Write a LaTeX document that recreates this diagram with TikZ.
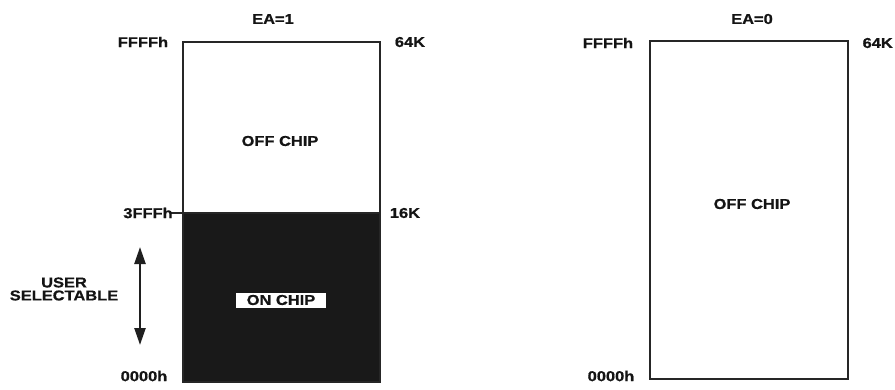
\documentclass[tikz,border=0pt]{standalone}
\usepackage{fontspec}
\setmainfont{Liberation Sans}[FakeStretch=1.15]
\usetikzlibrary{arrows.meta}
\begin{document}
\begin{tikzpicture}[x=1pt,y=-1pt,
  lbl/.style={font=\bfseries\fontsize{14.3}{15}\selectfont\addfontfeature{FakeBold=0.8}, inner sep=0pt, text=black!92},
  mem/.style={draw=black!85, line width=1.7pt, anchor=north west, inner sep=0pt},
  selarrow/.style={line width=2.4pt, draw=black!88, {Triangle[length=17pt,width=11pt]}-{Triangle[length=17pt,width=11pt]}}]
\useasboundingbox (0,0) rectangle (895,389);
% left map
\fill[black!90] (182,213) rectangle (379,381);
\node[mem, minimum width=197pt, minimum height=340pt] (boxA) at (182,41) {};
\coordinate (tickL) at (170,213);
\coordinate (tickR) at (379,213);
\draw[draw=black!85, line width=1.7pt] (tickL) -- (tickR);
\node[lbl] (ea1) at (273,19) {EA=1};
\node[lbl] (ffA) at (143,42) {FFFFh};
\node[lbl] (k64A) at (410,42) {64K};
\node[lbl] (offA) at (280,141) {OFF CHIP};
\node[lbl] (3ff) at (148,213) {3FFFh};
\node[lbl] (k16) at (405,213) {16K};
\node[lbl, align=center, font=\bfseries\fontsize{14.3}{13}\selectfont\addfontfeature{FakeBold=0.8}] (user) at (64,289) {USER\\SELECTABLE};
\node[lbl, fill=white, minimum width=90pt, minimum height=15pt] (onchip) at (281,300) {ON CHIP};
\node[lbl] (zeroA) at (144,376) {0000h};
\coordinate (aup) at (140,247);
\coordinate (adn) at (140,345);
\draw[selarrow] (aup) -- (adn);
% right map
\node[mem, minimum width=198pt, minimum height=338pt] (boxB) at (649,40) {};
\node[lbl] (ea0) at (752,19) {EA=0};
\node[lbl] (ffB) at (608,43) {FFFFh};
\node[lbl, anchor=east] (k64B) at (893,43) {64K};
\node[lbl] (offB) at (752,204) {OFF CHIP};
\node[lbl] (zeroB) at (611,376) {0000h};
\end{tikzpicture}
\end{document}
